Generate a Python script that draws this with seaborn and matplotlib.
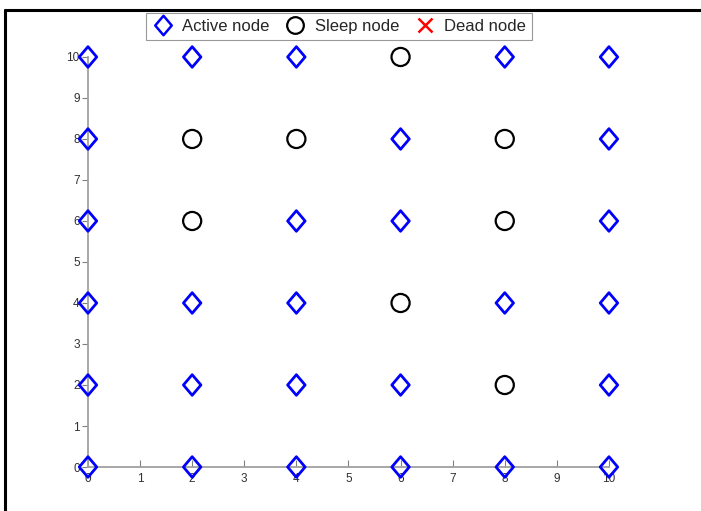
import numpy as np
import pandas as pd
import matplotlib
matplotlib.use("Agg")
import matplotlib.pyplot as plt
from matplotlib.lines import Line2D
from matplotlib.path import Path
import seaborn as sns

sns.set_style("white")
plt.rcParams['font.family'] = ['Liberation Sans', 'DejaVu Sans']

# node grid positions and states
grid = [0, 2, 4, 6, 8, 10]
sleep_x = [6, 2, 4, 8, 2, 8, 6, 8]
sleep_y = [10, 8, 8, 8, 6, 6, 4, 2]
dead_x = []
dead_y = []

rows = []
for gx in grid:
    for gy in grid:
        rows.append({"x": gx, "y": gy})
df = pd.DataFrame(rows)
sleep = set(zip(sleep_x, sleep_y))
dead = set(zip(dead_x, dead_y))
df["state"] = ["Sleep node" if (a, b) in sleep else ("Dead node" if (a, b) in dead else "Active node")
               for a, b in zip(df["x"], df["y"])]

# matlab-like diamond (a bit narrower than tall)
diamond = Path([(0, 1), (0.85, 0), (0, -1), (-0.85, 0), (0, 1)],
               [Path.MOVETO, Path.LINETO, Path.LINETO, Path.LINETO, Path.CLOSEPOLY])

fig = plt.figure(figsize=(7.01, 5.11), dpi=100)
ax = fig.add_axes([0.1255, 0.0861, 0.7432, 0.8024])

active = df[df["state"] == "Active node"]
sleeping = df[df["state"] == "Sleep node"]

sns.scatterplot(data=active, x="x", y="y", marker=diamond, s=220, facecolor="none",
                edgecolor="#0000ff", linewidth=2, ax=ax, zorder=3, clip_on=False)
sns.scatterplot(data=sleeping, x="x", y="y", marker="o", s=170, facecolor="none",
                edgecolor="black", linewidth=1.6, ax=ax, zorder=3, clip_on=False)

ax.set_xlim(0, 10)
ax.set_ylim(0, 10)
ax.set_xticks(range(0, 11))
ax.set_yticks(range(0, 11))
ax.set_xlabel("")
ax.set_ylabel("")
for s in ["top", "right"]:
    ax.spines[s].set_visible(False)
for s in ["left", "bottom"]:
    ax.spines[s].set_color("#a0a0a0")
    ax.spines[s].set_linewidth(1.3)
ax.tick_params(axis="x", direction="in", length=5, width=0.8, color="#808080",
               labelsize=8.5, labelcolor="#303030", pad=4, bottom=True)
ax.tick_params(axis="y", direction="out", length=4, width=0.8, color="#808080",
               labelsize=8.5, labelcolor="#303030", pad=2, left=True)

handles = [
    Line2D([], [], marker=diamond, color="none", markeredgecolor="#0000ff", markerfacecolor="none",
           markersize=14, markeredgewidth=1.8),
    Line2D([], [], marker="o", color="none", markeredgecolor="black", markerfacecolor="none",
           markersize=12, markeredgewidth=1.6),
    Line2D([], [], marker="x", color="none", markeredgecolor="#ff0000",
           markersize=10, markeredgewidth=1.8),
]
leg = fig.legend(handles, ["Active node", "Sleep node", "Dead node"], ncol=3,
                 loc="center", bbox_to_anchor=(339 / 701, 1 - 26.5 / 511),
                 fontsize=12, frameon=True, fancybox=False, handlelength=1.3,
                 handletextpad=0.5, columnspacing=0.9, borderpad=0.35)
leg.get_frame().set_edgecolor("#808080")
leg.get_frame().set_linewidth(0.8)

# outer frame lines (top and left)
fig.add_artist(Line2D([5 / 701, 1], [1 - 10 / 511, 1 - 10 / 511], color="black", linewidth=2.2,
                      transform=fig.transFigure))
fig.add_artist(Line2D([5 / 701, 5 / 701], [0, 1 - 10 / 511], color="black", linewidth=2.2,
                      transform=fig.transFigure))

fig.savefig("out.png", dpi=100)
